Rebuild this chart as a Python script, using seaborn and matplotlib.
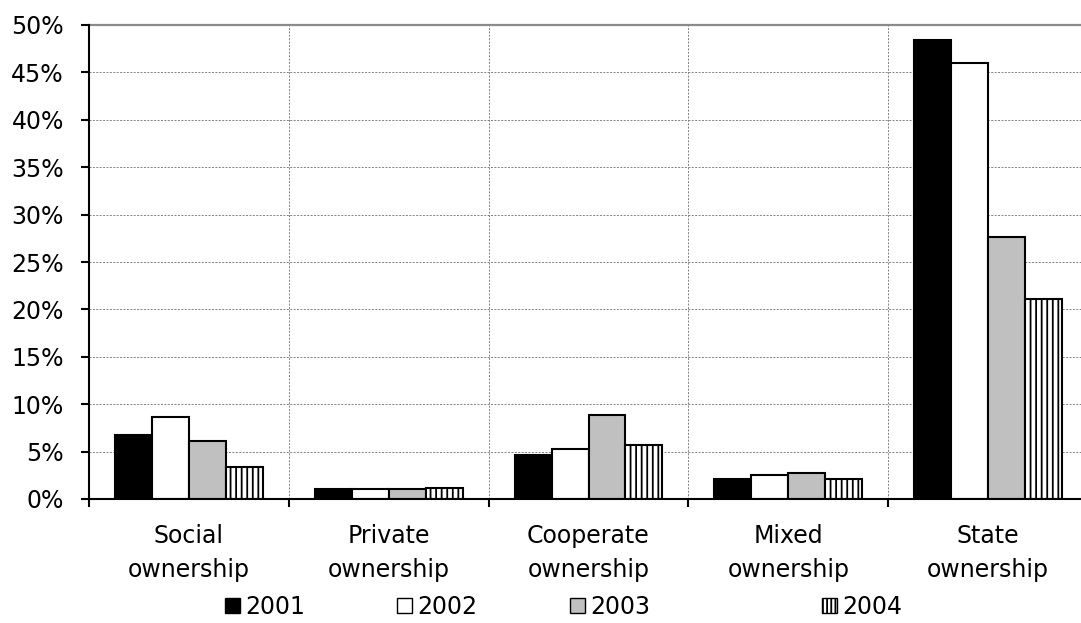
import numpy as np
import pandas as pd
import matplotlib
matplotlib.use("Agg")
import matplotlib.pyplot as plt
from matplotlib.patches import Patch
from matplotlib.ticker import PercentFormatter, FixedLocator
import seaborn as sns

# Shares of ownership types by year (percent)
categories = ["Social\nownership", "Private\nownership", "Cooperate\nownership",
              "Mixed\nownership", "State\nownership"]
years = ["2001", "2002", "2003", "2004"]
share_2001 = [6.75, 1.05, 4.65, 2.1, 48.4]
share_2002 = [8.6, 1.05, 5.25, 2.5, 46.0]
share_2003 = [6.1, 1.05, 8.85, 2.7, 27.6]
share_2004 = [3.4, 1.15, 5.7, 2.15, 21.1]
y_ticks = list(range(0, 51, 5))

sns.set_theme(style="white")
plt.rcParams["font.family"] = ["DejaVu Sans"]
plt.rcParams["hatch.linewidth"] = 1.3
plt.rcParams["hatch.color"] = "black"
for key in ["text.color", "xtick.color", "ytick.color", "xtick.labelcolor",
            "ytick.labelcolor", "axes.labelcolor"]:
    plt.rcParams[key] = "black"

df = pd.DataFrame({
    "category": np.repeat(categories, len(years)),
    "year": years * len(categories),
    "share": np.column_stack([share_2001, share_2002, share_2003, share_2004]).ravel(),
})

W, H = 1081, 623
fig = plt.figure(figsize=(W / 100, H / 100), dpi=100)
ax = fig.add_axes([89 / W, (H - 499) / H, 999 / W, 474 / H])

colors = ["#000000", "#ffffff", "#c0c0c0", "#ffffff"]
sns.barplot(data=df, x="category", y="share", hue="year", hue_order=years,
            order=categories, palette=colors, width=0.74, gap=0,
            edgecolor="black", linewidth=1.5, legend=False, ax=ax, zorder=3)

# vertical stripes for the last year
for bar in ax.containers[3].patches:
    bar.set_hatch("|||")

ax.set_xlim(-0.5, len(categories) - 0.5)
ax.set_ylim(0, 50)
ax.yaxis.set_major_locator(FixedLocator(y_ticks))
ax.yaxis.set_major_formatter(PercentFormatter(decimals=0))
ax.set_xlabel("")
ax.set_ylabel("")

# category boundaries: minor ticks with dotted grid lines
ax.xaxis.set_minor_locator(FixedLocator(np.arange(-0.5, len(categories), 1.0)))
ax.tick_params(axis="x", which="major", length=0, pad=18, labelsize=17,
               labelcolor="black")
ax.tick_params(axis="x", which="minor", length=6, width=1.5, color="black",
               direction="out", bottom=True)
ax.tick_params(axis="y", which="major", length=6, width=1.5, color="black",
               direction="out", left=True, pad=12, labelsize=17, labelcolor="black")
for lab in ax.get_xticklabels():
    lab.set_linespacing(1.5)

grid_kw = dict(color="#808080", linewidth=0.7, linestyle=(0, (2, 1.5)))
ax.grid(axis="y", which="major", **grid_kw)
ax.grid(axis="x", which="minor", **grid_kw)
ax.set_axisbelow(True)

for side in ["left", "bottom"]:
    ax.spines[side].set_color("black")
    ax.spines[side].set_linewidth(1.5)
    ax.spines[side].set_zorder(4)
ax.spines["right"].set_visible(False)
ax.spines["top"].set_color("#8a8a8a")
ax.spines["top"].set_linewidth(1.6)

# legend entries along the bottom
hatches = [None, None, None, "||||"]
legend_x = [225, 397, 570, 822]
for yr, col, hat, lx in zip(years, colors, hatches, legend_x):
    handle = Patch(facecolor=col, edgecolor="black", linewidth=1.0, hatch=hat, label=yr)
    fig.legend(handles=[handle], loc="center left",
               bbox_to_anchor=(lx / W, (H - 607) / H), frameon=False,
               fontsize=17, handlelength=0.62, handleheight=0.62,
               handletextpad=0.25, borderpad=0, borderaxespad=0,
               labelcolor="black")

fig.savefig("out.png", dpi=100)
